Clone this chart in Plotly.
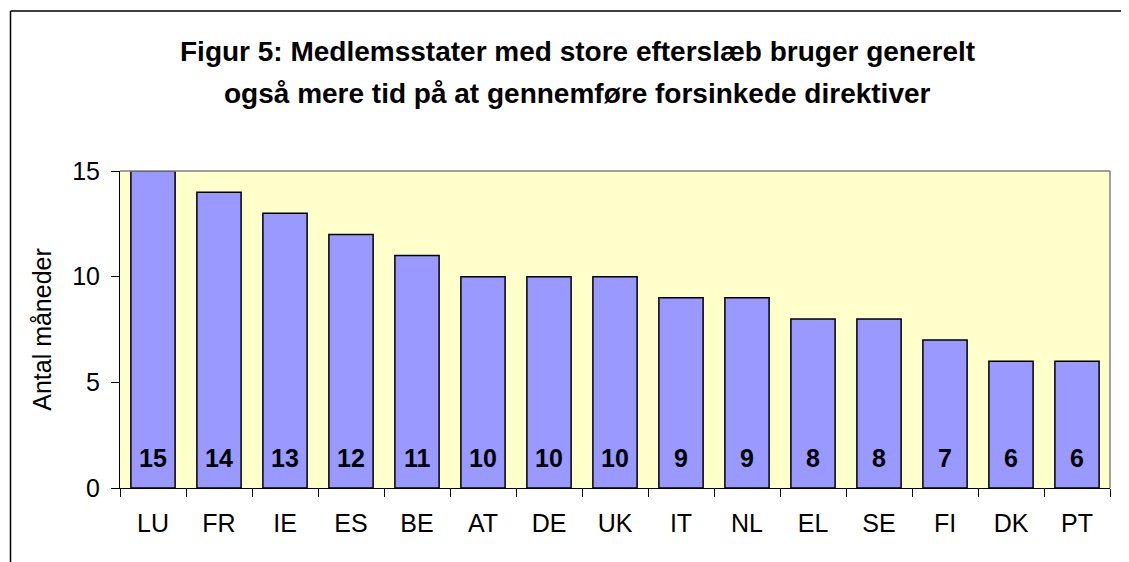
import plotly.graph_objects as go

categories = ["LU", "FR", "IE", "ES", "BE", "AT", "DE", "UK", "IT", "NL", "EL", "SE", "FI", "DK", "PT"]
values = [15, 14, 13, 12, 11, 10, 10, 10, 9, 9, 8, 8, 7, 6, 6]
y_ticks = [0, 5, 10, 15]
title_lines = ["Figur 5: Medlemsstater med store efterslæb bruger generelt",
               "også mere tid på at gennemføre forsinkede direktiver"]
y_title = "Antal måneder"

FONT = "Liberation Sans, Arial, sans-serif"
OFF = 8  # page body margin
W, H = 1129 - OFF, 562 - OFF
ML, MR, MT, MB = 120 - OFF, 1129 - 1110, 171 - OFF, 562 - 488
PW, PH = W - ML - MR, H - MT - MB


def px_x(x):
    # screen pixel -> paper coordinate
    return (x - OFF - ML) / PW


def px_y(y):
    return (H - MB - (y - OFF)) / PH


fig = go.Figure()
fig.add_trace(go.Bar(
    x=categories, y=values,
    marker=dict(color="#9999FF", line=dict(color="black", width=1.5)),
    hoverinfo="skip",
))

annotations = []
for c, v in zip(categories, values):
    annotations.append(dict(
        x=c, y=0, xref="x", yref="y", text="<b>%d</b>" % v, showarrow=False,
        xanchor="center", yanchor="bottom", yshift=14,
        font=dict(family=FONT, size=25, color="black"),
    ))
for line, yc in zip(title_lines, [52, 94]):
    annotations.append(dict(
        x=px_x(577), y=px_y(yc), xref="paper", yref="paper",
        text="<b>%s</b>" % line, showarrow=False,
        xanchor="center", yanchor="middle",
        font=dict(family=FONT, size=28, color="black"),
    ))

fig.update_layout(
    width=W, height=H,
    margin=dict(l=ML, r=MR, t=MT, b=MB, autoexpand=False),
    paper_bgcolor="white",
    plot_bgcolor="#FFFFCC",
    bargap=0.33,
    showlegend=False,
    font=dict(family=FONT, color="black"),
    xaxis=dict(
        type="category",
        automargin=False,
        tickson="boundaries",
        ticks="outside", ticklen=8, tickcolor="black", tickwidth=1,
        ticklabelstandoff=13,
        showline=True, linecolor="black", linewidth=1,
        showgrid=False, mirror=False,
        tickfont=dict(family=FONT, size=25, color="black"),
        range=[-0.5, len(categories) - 0.5],
    ),
    yaxis=dict(
        automargin=False,
        range=[0, 15],
        tickvals=y_ticks,
        ticks="outside", ticklen=8, tickcolor="black", tickwidth=1,
        ticklabelstandoff=6,
        showline=True, linecolor="black", linewidth=1,
        showgrid=False, zeroline=False,
        tickfont=dict(family=FONT, size=25, color="black"),
        title=dict(text=y_title, font=dict(family=FONT, size=25, color="black"), standoff=13),
    ),
    annotations=annotations,
    shapes=[
        dict(type="line", xref="paper", yref="paper", x0=0, x1=1, y0=1, y1=1,
             line=dict(color="#808080", width=1.5)),
        dict(type="line", xref="paper", yref="paper", x0=1, x1=1, y0=0, y1=1,
             line=dict(color="#808080", width=1.5)),
        dict(type="line", xref="paper", yref="paper",
             x0=px_x(10.5), x1=px_x(10.5), y0=px_y(580), y1=px_y(11),
             line=dict(color="black", width=1.5)),
        dict(type="line", xref="paper", yref="paper",
             x0=px_x(10.5), x1=px_x(1150), y0=px_y(11), y1=px_y(11),
             line=dict(color="black", width=1.5)),
    ],
)

fig.write_html("out.html")
